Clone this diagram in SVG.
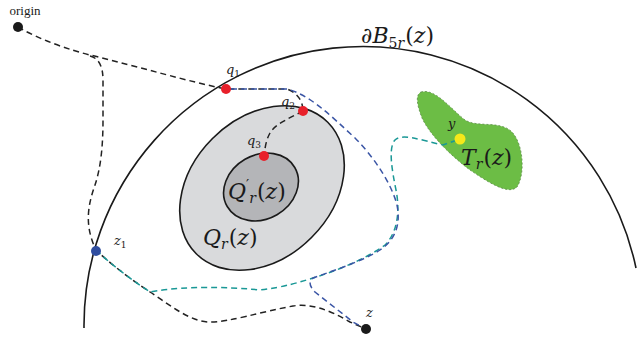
<svg xmlns="http://www.w3.org/2000/svg" width="638" height="340" viewBox="0 0 638 340">
<style>
.lbl{font-family:"Liberation Serif","DejaVu Serif",serif;fill:#1a1a1a}
.m{font-family:"DejaVu Serif","Liberation Serif",serif;fill:#1a1a1a}
.it{font-style:italic}
.dash{fill:none;stroke-width:1.5;stroke-dasharray:6 4}
.blk{stroke:#222}
.blu{stroke:#3a55a5}
.tea{stroke:#1a9896}
.outline{stroke:#1a1a1a;stroke-width:1.6}
</style>
<rect width="638" height="340" fill="#fff"/>
<g id="ball">
<path d="M84,328 A279,279 0 0 1 636,268" fill="none" class="outline"/>
<text class="m" x="361" y="43" font-size="22">∂<tspan class="it">B</tspan><tspan font-size="14" dy="5">5</tspan><tspan font-size="14" class="it">r</tspan><tspan dy="-5" dx="1">(</tspan><tspan class="it">z</tspan>)</text>
</g>
<g id="Qr">
<ellipse cx="262" cy="188" rx="93" ry="70" transform="rotate(-45 262 188)" fill="#d9dadc" class="outline"/>
<text class="m" x="203" y="245" font-size="22"><tspan class="it">Q</tspan><tspan font-size="14" class="it" dy="4">r</tspan><tspan dy="-4" dx="1">(</tspan><tspan class="it">z</tspan>)</text>
</g>
<g id="Qrprime">
<ellipse cx="261" cy="187" rx="39" ry="32" transform="rotate(-30 261 187)" fill="#b4b5b8" class="outline"/>
<text class="m" x="228" y="199" font-size="22"><tspan class="it">Q</tspan><tspan font-size="14" dy="-9">′</tspan><tspan font-size="14" class="it" dy="13">r</tspan><tspan dy="-4" dx="1">(</tspan><tspan class="it">z</tspan>)</text>
</g>
<g id="Tr">
<path d="M421,92 C435,88 450,108 465,120 C478,128 500,120 512,132 C524,145 525,175 517,187 C508,196 485,180 470,170 C450,155 430,135 422,118 C417,105 415,95 421,92 Z" fill="#6cbd45" stroke="#5a8a48" stroke-width="0.8" stroke-dasharray="2 2"/>
<text class="m" x="461" y="165" font-size="22"><tspan class="it">T</tspan><tspan font-size="14" class="it" dy="4">r</tspan><tspan dy="-4" dx="1">(</tspan><tspan class="it">z</tspan>)</text>
</g>
<g id="connectors">
<path class="dash blk" d="M18,27 C40,40 70,50 90,55 C140,67 190,82 226,89 L287,89 C296,92 303,100 303,111"/>
<path class="dash blk" d="M303,111 C290,118 275,124 270,133 C266,140 265,148 264,156"/>
<path class="dash blk" d="M90,56 C98,58 103,65 103,80 L103,120 C103,150 100,170 95,185 C88,205 84,225 96,250 C115,268 135,282 150,292 C170,305 190,322 210,322 C230,322 260,312 293,306 C310,303 330,310 350,322 L366,329"/>
<path class="dash tea" d="M96,250 C115,268 135,282 150,292 C170,288 210,285 260,290 C285,287 300,282 313,278 C330,273 365,260 385,245 C398,232 400,210 396,190 C392,170 388,148 395,140 C402,133 420,140 443,145 L460,139"/>
<path class="dash blu" stroke-dashoffset="5" d="M226,89 L287,89 C310,95 330,115 355,138 C375,158 392,185 397,205 C401,225 395,240 380,250 C365,260 330,272 313,278 C308,282 310,287 315,292 L353,322 L366,329"/>
</g>
<g id="origin">
<circle cx="18" cy="27" r="5" fill="#1a1a1a"/>
<text class="lbl" x="25" y="15" font-size="13" text-anchor="middle">origin</text>
</g>
<g id="q1">
<circle cx="226" cy="89" r="5" fill="#e8202a"/>
<text class="m" x="226" y="74" font-size="13"><tspan class="it">q</tspan><tspan font-size="9" dy="3">1</tspan></text>
</g>
<g id="q2">
<circle cx="303" cy="111" r="5" fill="#e8202a"/>
<text class="m" x="281" y="106" font-size="13"><tspan class="it">q</tspan><tspan font-size="9" dy="3">2</tspan></text>
</g>
<g id="q3">
<circle cx="264" cy="156" r="5" fill="#e8202a"/>
<text class="m" x="247" y="145" font-size="13"><tspan class="it">q</tspan><tspan font-size="9" dy="3">3</tspan></text>
</g>
<g id="z1">
<circle cx="96" cy="251" r="5" fill="#2f4d9f"/>
<text class="m" x="114" y="245" font-size="13"><tspan class="it">z</tspan><tspan font-size="9" dy="3">1</tspan></text>
</g>
<g id="z">
<circle cx="366" cy="329" r="5" fill="#1a1a1a"/>
<text class="m it" x="366" y="317" font-size="13">z</text>
</g>
<g id="y">
<circle cx="460" cy="139" r="5.5" fill="#f5e81a"/>
<text class="m it" x="448" y="128" font-size="13">y</text>
</g>
</svg>
